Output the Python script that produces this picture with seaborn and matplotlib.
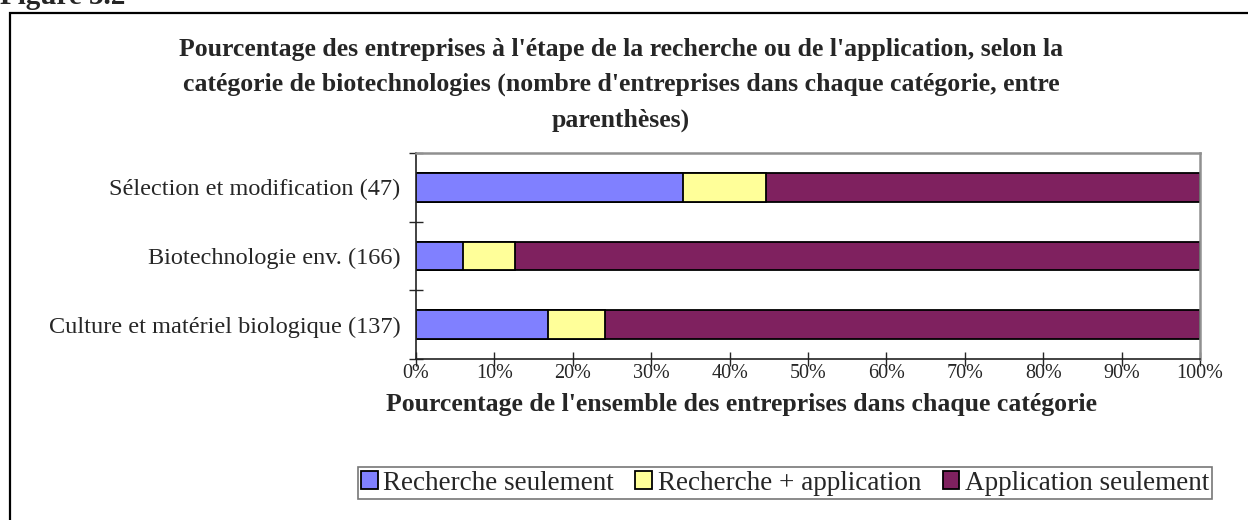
import pandas as pd
import numpy as np
import matplotlib
matplotlib.use('Agg')
import matplotlib.pyplot as plt
import matplotlib.patches as mpatches
import seaborn as sns

# Data (percent of firms in each category)
categories = ['Sélection et modification (47)',
              'Biotechnologie env. (166)',
              'Culture et matériel biologique (137)']
recherche_seulement = [34.0, 6.0, 16.8]
recherche_application = [10.6, 6.6, 7.3]
application_seulement = [55.4, 87.4, 75.9]
series_names = ['Recherche seulement', 'Recherche + application', 'Application seulement']
series_colors = ['#8080FF', '#FFFF99', '#7F215F']
x_ticks = list(range(0, 101, 10))
x_tick_labels = [f'{v}%' for v in x_ticks]

sns.set_style('ticks')
plt.rcParams['font.family'] = ['Liberation Serif', 'DejaVu Serif']

df = pd.DataFrame({
    'categorie': categories,
    'r': recherche_seulement,
    'ra': recherche_application,
    'a': application_seulement,
})
# cumulative ends, drawn from the longest so the shorter bars sit on top
df['c1'] = df['r']
df['c2'] = df['r'] + df['ra']
df['c3'] = df['r'] + df['ra'] + df['a']

fig = plt.figure(figsize=(12.48, 5.2), dpi=100)
ax = fig.add_axes([416 / 1248, 1 - 359 / 520, 784 / 1248, 206 / 520])

for col, color in zip(['c3', 'c2', 'c1'], series_colors[::-1]):
    sns.barplot(data=df, x=col, y='categorie', color=color, width=0.42,
                edgecolor='black', linewidth=1.3, saturation=1, ax=ax, orient='h')

ax.set_xlim(0, 100)
ax.set_ylim(2.5, -0.5)
ax.set_xticks(x_ticks)
ax.set_xticklabels(x_tick_labels, fontsize=14.5)
ax.set_yticks(range(len(categories)))
ax.set_yticklabels(categories, fontsize=17.5)
ax.set_yticks([-0.5, 0.5, 1.5, 2.5], minor=True)
ax.tick_params(axis='y', which='major', length=0, pad=11)
ax.tick_params(axis='y', which='minor', length=10, direction='inout', width=1)
ax.tick_params(axis='x', which='major', length=9.5, direction='inout', width=1, pad=-1)
ax.set_xlabel('')
ax.set_ylabel('')

for side in ['top', 'right']:
    ax.spines[side].set_color('#909090')
    ax.spines[side].set_linewidth(1.8)
for side in ['left', 'bottom']:
    ax.spines[side].set_color('#222222')
    ax.spines[side].set_linewidth(1.2)

# outer frame of the figure panel
frame = mpatches.Rectangle((10 / 1248, -0.1), 1.1, 1.1 - 13 / 520,
                           transform=fig.transFigure, fill=False,
                           edgecolor='black', linewidth=1.6)
fig.patches.append(frame)

fig.text(0.0, 1 - 4 / 520, 'Figure 3.2', fontsize=21, fontweight='bold', va='baseline', ha='left')

title = ("Pourcentage des entreprises à l'étape de la recherche ou de l'application, selon la\n"
         "catégorie de biotechnologies (nombre d'entreprises dans chaque catégorie, entre\n"
         "parenthèses)")
fig.text(621 / 1248, 1 - 85 / 520, title, fontsize=18.5, fontweight='bold',
         ha='center', va='center', multialignment='center', linespacing=1.68)

fig.text(742 / 1248, 1 - 404 / 520, "Pourcentage de l'ensemble des entreprises dans chaque catégorie",
         fontsize=18.5, fontweight='bold', ha='center', va='center')

handles = [mpatches.Patch(facecolor=c, edgecolor='black', linewidth=1.3) for c in series_colors]
leg = fig.legend(handles, series_names, loc='center', bbox_to_anchor=(785 / 1248, 1 - 483 / 520),
                 ncol=3, fontsize=19.5, frameon=True, fancybox=False, handlelength=0.62,
                 handleheight=0.62, handletextpad=0.2, columnspacing=0.8, borderpad=0.12,
                 borderaxespad=0)
leg.get_frame().set_edgecolor('#555555')
leg.get_frame().set_linewidth(1.2)

fig.savefig('out.png', dpi=100)
